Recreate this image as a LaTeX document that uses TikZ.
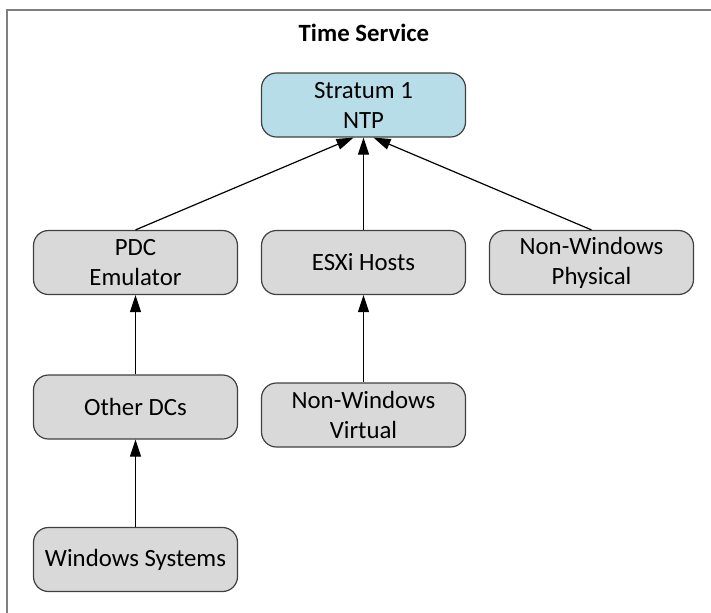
\documentclass[tikz,border=0pt]{standalone}
\usepackage{fontspec}
\setmainfont{Carlito}
\usetikzlibrary{positioning}
\usetikzlibrary{arrows.meta}
\definecolor{ntpblue}{HTML}{B7DEE8}
\definecolor{boxgray}{HTML}{D9D9D9}
\definecolor{edgegray}{HTML}{404040}
\definecolor{framegray}{HTML}{7F7F7F}
\tikzset{svc/.style = {draw=edgegray, fill=boxgray, rounded corners=7.5pt,
                       line width=0.6pt, minimum width=102pt, minimum height=32pt,
                       align=center, inner sep=0pt,
                       font=\fontsize{12.4}{15}\selectfont}}
\tikzset{ntp/.style = {svc, fill=ntpblue}}
\tikzset{arr/.style = {-{Triangle[length=8.5pt,width=5.5pt]}, line width=0.6pt}}

\begin{document}
\begin{tikzpicture}[x=0.5pt, y=-0.5pt]
      % page and frame
      \clip (0,0) rectangle (711,612);
      \draw[framegray, line width=1pt] (7,10) rectangle (740,640);
      \node[font=\bfseries\fontsize{12.4}{15}\selectfont] (title) at (364,33) {Time Service};

      % top level
      \node[ntp] (strat) at (363.5,105) {Stratum 1\\NTP};

      % second row
      \node[svc] (pdc)  at (135.5,262.5) {PDC\\Emulator};
      \node[svc] (esxi) at (363.5,262.5) {ESXi Hosts};
      \node[svc] (nwp)  at (591.5,262.5) {Non-Windows\\Physical};

      % lower rows
      \node[svc] (odc) at (135.5,407) {Other DCs};
      \node[svc] (nwv) at (363.5,415) {Non-Windows\\Virtual};
      \node[svc] (win) at (135.5,559.5) {Windows Systems};

      % arrows
      \draw[arr] (pdc.north) -- ([xshift=-5pt]strat.south);
      \draw[arr] (esxi.north) -- (strat.south);
      \draw[arr] (nwp.north) -- ([xshift=5pt]strat.south);
      \draw[arr] (odc.north) -- (pdc.south);
      \draw[arr] (win.north) -- (odc.south);
      \draw[arr] (nwv.north) -- (esxi.south);
    \end{tikzpicture}
\end{document}
